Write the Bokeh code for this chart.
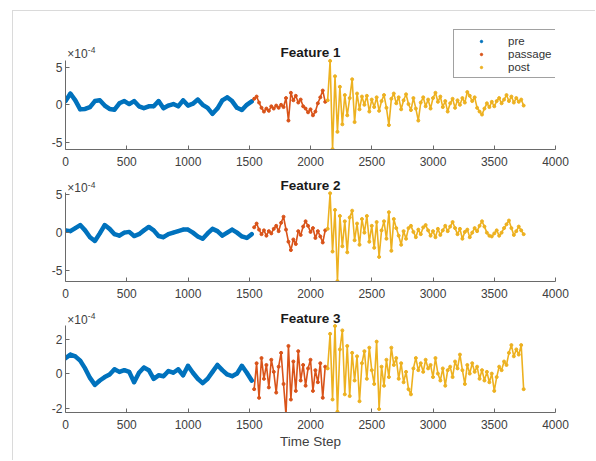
from bokeh.plotting import figure
from bokeh.models import Range1d, FixedTicker, Label, Legend, LegendItem, Spacer
from bokeh.layouts import column, row
from bokeh.embed import file_html
from bokeh.resources import INLINE

# ---------------- data (values in units of 1e-4) ----------------
pre_t = list(range(0, 1521, 40))
passage_t = list(range(1540, 2121, 20))
post_t = list(range(2140, 3741, 20))

f1_pre = [0.5, 1.5, 0.6, -0.6, -0.55, -0.3, 0.5, 0.6, -0.1, -0.55,
          -0.65, 0.2, 0.5, 0.1, 0.5, -0.2, -0.45, -0.2, -0.2, 0.5,
          -0.45, -0.1, 0.1, -0.2, 0.6, -0.1, 0.15, 0.7, 0.0, -0.4,
          -1.2, -0.5, 0.6, 1.0, 0.5, -0.4, -0.7, 0.0, 0.45]
f1_passage = [0.8, 1.1, 0.3, -0.4, -0.9, -0.5, -0.8, -0.2, -0.5, -0.1,
              -0.4, 0.0, -0.3, 0.9, -2.1, 1.6, 0.6, 1.2, 0.3, 0.7,
              -0.2, -0.5, -1.0, -0.6, -1.4, -0.9, 0.2, 1.0, 1.9, 0.4]
f1_post = [0.6, 5.85, -5.9, 3.8, -3.6, 2.4, -2.6, 1.3, -1.4, 0.9,
           3.4, -2.3, 1.5, -0.6, 1.1, 0.0, 1.2, -0.9, 0.7, -0.3,
           1.0, -0.8, 0.5, 1.3, -0.4, -2.7, 0.8, 1.5, 0.2, 1.0,
           -0.6, 0.6, 1.4, 0.1, -0.7, 0.9, -0.5, -2.1, 0.3, 1.0,
           -0.2, 0.7, -0.5, 0.9, 1.6, 0.4, 1.1, -0.3, 0.5, -0.9,
           0.2, 0.8, -0.4, 0.6, 0.0, 0.9, 0.3, 1.7, 1.2, 0.5,
           1.0, -0.4, -0.9, -1.3, -0.5, 0.2, -0.3, 0.4, -0.2, 0.5,
           0.9, 0.2, 0.7, 1.3, 0.5, 1.1, 0.3, 0.9, 0.4, 0.7,
           -0.1]

f2_pre = [0.3, 0.2, 0.6, 1.0, 0.3, -0.6, -1.1, -0.1, 1.0, 0.5,
          -0.2, -0.4, 0.0, 0.1, -0.45, -0.2, 0.3, 0.75, 0.3, -0.45,
          -0.6, -0.2, 0.0, 0.2, 0.4, 0.4, 0.0, -0.5, -0.8, -0.1,
          0.5, 0.2, -0.4, 0.0, 0.4, 0.0, -0.5, -0.7, -0.2]
f2_passage = [0.7, 1.2, 0.4, -0.2, 0.3, -0.4, 0.2, -0.1, 0.5, 0.9,
              0.2, 1.3, 2.1, 0.4, -1.2, -2.3, -0.9, -1.5, 0.2, -0.3,
              0.8, 1.5, 0.9, 0.1, 0.6, -0.7, 0.2, -0.5, -1.3, 0.3]
f2_post = [0.5, 5.2, -2.5, 3.0, -6.4, 2.2, -1.8, 1.5, -2.6, 2.0,
           2.9, -1.0, 1.2, -1.6, 1.8, 0.0, 2.2, -1.2, 0.9, -2.0,
           1.4, -3.2, 0.3, 1.5, -0.8, 2.7, -2.4, 1.8, 0.6, -0.4,
           -1.6, 0.2, -0.8, 0.6, 0.9, 0.1, -0.6, 0.4, -0.2, 0.7,
           1.0, 0.3, -0.4, 0.2, -0.6, 0.5, -0.3, 0.3, 0.9, 0.2,
           0.8, 1.4, 0.6, -0.2, 0.5, -0.8, 0.1, 0.4, -0.6, 0.0,
           0.6, 0.2, 0.9, 1.5, 0.8, 0.0, -0.4, -0.5, -0.1, 0.3,
           -0.4, 0.0, 0.6, 1.1, 1.6, 0.6, -0.3, 0.2, 0.8, 0.3,
           -0.2]

f3_pre = [0.9, 1.1, 1.0, 0.75, 0.3, -0.25, -0.65, -0.4, -0.2, -0.05,
          0.25, 0.1, 0.2, 0.1, -0.5, 0.05, 0.35, 0.2, -0.3, -0.1,
          -0.15, 0.15, 0.05, 0.25, -0.1, 0.45, 0.05, -0.3, -0.55, -0.3,
          0.1, 0.5, 0.2, -0.05, -0.15, 0.0, 0.45, 0.05, -0.4]
f3_passage = [-0.9, 0.6, -1.4, 0.9, -0.3, 0.5, -0.8, 0.8, 0.1, -1.1,
              0.4, 1.2, -0.6, -2.4, 1.6, -1.5, 0.7, -1.0, 1.3, -0.4,
              0.5, -0.7, 0.3, 0.8, -1.0, 0.2, -0.5, 0.6, -1.4, 0.4]
f3_post = [0.3, 2.3, -1.5, 2.75, -2.2, 1.4, 2.5, -1.2, 1.6, -1.3,
           1.2, -0.4, 1.0, -1.6, 0.6, 1.3, -0.3, 1.5, 0.2, -0.6,
           1.85, -2.05, 0.4, -0.7, 0.8, -0.2, 1.5, 0.5, 0.9, -0.3,
           0.6, -0.5, 0.1, -0.9, -1.2, 0.3, 0.9, 0.2, 0.6, 0.1,
           0.8, 0.3, 0.5, -0.2, 0.9, 0.0, -0.4, 0.3, -0.7, 0.2,
           0.4, -0.2, 0.7, 0.3, 1.1, 0.2, -0.6, 0.5, 0.0, 0.6,
           0.1, 0.4, -0.3, 0.2, -0.4, 0.1, -0.5, 0.0, -1.0, -0.2,
           0.4, 0.2, 0.7, 0.5, 1.2, 1.65, 1.0, 1.4, 1.1, 1.65,
           -0.9]

titles = ["Feature 1", "Feature 2", "Feature 3"]
y_limits = [(-5.95, 5.9), (-6.45, 5.3), (-2.25, 2.8)]
y_ticks = [[-5, 0, 5], [-5, 0, 5], [-2, 0, 2]]
x_ticks = [0, 500, 1000, 1500, 2000, 2500, 3000, 3500, 4000]
series_names = ["pre", "passage", "post"]
features = [(f1_pre, f1_passage, f1_post),
            (f2_pre, f2_passage, f2_post),
            (f3_pre, f3_passage, f3_post)]

# ---------------- style / layout ----------------
C_PRE, C_PAS, C_POST = "#0072BD", "#D95319", "#EDB120"
FONT = "Liberation Sans"
TXT = "#404040"
AX = "#6a6a6a"
GRAYLINE = "#dadada"
FRAME_W, DATA_H = 490, 89
LEFT, RIGHT = 52, 33
ext = [34, 16, 16]            # extra frame space above the axes (title area)
borders = [(15, 21), (6, 22), (6, 37)]
title_off = [8, 7, 6.5]
exp_off = [(7, 10.5), (4.5, 7.5), (5, 9.5)]
PX_PER_T = FRAME_W / 4000.0

figs = []
for i in range(3):
    top, bottom = borders[i]
    y0, y1 = y_limits[i]
    upp = (y1 - y0) / DATA_H
    ytop = y1 + ext[i] * upp
    p = figure(width=LEFT + FRAME_W + RIGHT, height=top + DATA_H + ext[i] + bottom,
               x_range=Range1d(0, 4000), y_range=Range1d(y0, ytop),
               output_backend="svg", toolbar_location=None,
               min_border_left=LEFT, min_border_right=RIGHT,
               min_border_top=top, min_border_bottom=bottom)
    p.outline_line_color = None
    p.grid.visible = False
    p.background_fill_color = "white"
    p.border_fill_color = "white"

    pre, pas, post = features[i]
    p.line(pre_t, pre, color=C_PRE, line_width=4.5, line_cap="round", line_join="round")
    r_pre = p.scatter(pre_t, pre, color=C_PRE, size=3, marker="circle")
    p.line(passage_t, pas, color=C_PAS, line_width=1.6)
    r_pas = p.scatter(passage_t, pas, color=C_PAS, size=3, marker="circle")
    p.line(post_t, post, color=C_POST, line_width=1.6)
    r_post = p.scatter(post_t, post, color=C_POST, size=3, marker="circle")

    for ax in (p.xaxis[0], p.yaxis[0]):
        ax.axis_line_color = AX
        ax.major_tick_line_color = AX
        ax.major_tick_in = 4
        ax.major_tick_out = 0
        ax.minor_tick_line_color = None
        ax.major_label_text_font = FONT
        ax.major_label_text_font_size = "12px"
        ax.major_label_text_color = TXT
    p.xaxis[0].ticker = FixedTicker(ticks=x_ticks)
    p.xaxis[0].major_label_standoff = 7
    p.yaxis[0].ticker = FixedTicker(ticks=y_ticks[i])
    p.yaxis[0].bounds = (y0, y1)
    p.yaxis[0].major_label_standoff = 3
    p.yaxis[0].major_label_overrides = {v: str(v) for v in y_ticks[i]}
    if i == 2:
        p.xaxis[0].axis_label = "Time Step"
        p.xaxis[0].axis_label_text_font = FONT
        p.xaxis[0].axis_label_text_font_size = "13.5px"
        p.xaxis[0].axis_label_text_font_style = "normal"
        p.xaxis[0].axis_label_text_color = TXT
        p.xaxis[0].axis_label_standoff = 2

    p.add_layout(Label(x=2000, y=y1 + title_off[i] * upp, text=titles[i],
                       text_align="center", text_baseline="middle",
                       text_font=FONT, text_font_size="13.5px",
                       text_font_style="bold", text_color="#1a1a1a"))
    e1, e2 = exp_off[i]
    p.add_layout(Label(x=1.7 / PX_PER_T, y=y1 + e1 * upp, text="\u00d710",
                       text_align="left", text_baseline="middle",
                       text_font=FONT, text_font_size="12px", text_color=TXT))
    p.add_layout(Label(x=22.3 / PX_PER_T, y=y1 + e2 * upp, text="-4",
                       text_align="left", text_baseline="middle",
                       text_font=FONT, text_font_size="8.5px", text_color=TXT))

    if i == 0:
        legend = Legend(items=[LegendItem(label=series_names[0], renderers=[r_pre]),
                               LegendItem(label=series_names[1], renderers=[r_pas]),
                               LegendItem(label=series_names[2], renderers=[r_post])],
                        location=(388, 71), margin=0, padding=4, spacing=0,
                        glyph_width=46, glyph_height=6, label_height=13,
                        label_standoff=4, label_text_font=FONT,
                        label_text_font_size="11.5px", label_text_color="#333333",
                        border_line_color="#444444", border_line_width=1,
                        background_fill_color="white", background_fill_alpha=1.0)
        p.add_layout(legend)
    figs.append(p)

top_bar = row(Spacer(width=12, height=1),
              Spacer(width=583, height=1, styles={"background-color": GRAYLINE}))
body = row(Spacer(width=12, height=1),
           Spacer(width=1, height=449, styles={"background-color": GRAYLINE}),
           column(*figs))
layout = column(Spacer(width=1, height=10), top_bar, body)

open("out.html", "w").write(file_html(layout, INLINE))
